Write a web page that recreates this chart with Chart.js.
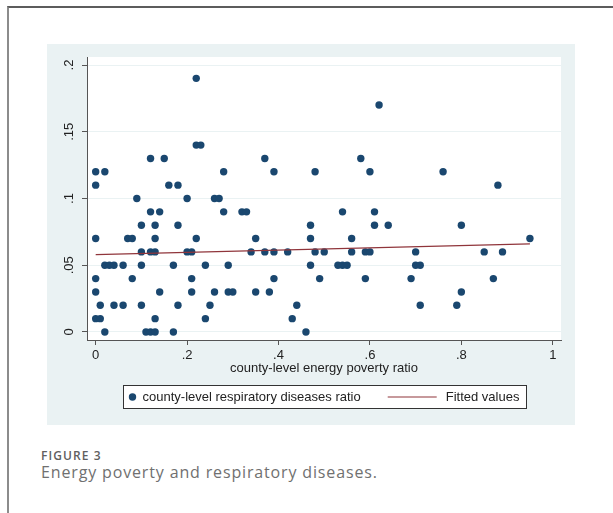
<!DOCTYPE html>
<html>
<head>
<meta charset="utf-8">
<script src="https://cdn.jsdelivr.net/npm/chart.js@4.4.0/dist/chart.umd.min.js"></script>
<style>
  html, body { margin: 0; padding: 0; background: #fff; width: 613px; height: 513px; overflow: hidden; }
  #card { position: absolute; left: 7px; top: 6px; width: 700px; height: 600px; border-left: 2px solid #8c8c8c; border-top: 2px solid #5c5c5c; }
  #wrap { position: absolute; left: 47px; top: 44px; width: 528px; height: 381px; }
  #figno { position: absolute; left: 41px; top: 450px; font: 600 12px/1 "Open Sans", sans-serif; letter-spacing: 1.1px; color: #606060; }
  #figcap { position: absolute; left: 41px; top: 463px; font: 400 16px/1.2 "Open Sans", sans-serif; letter-spacing: 0.85px; color: #707070; }
</style>
</head>
<body>
<div id="card"></div>
<div id="wrap"><canvas id="chartEnergyResp" width="528" height="381"></canvas></div>
<div id="figno">FIGURE 3</div>
<div id="figcap">Energy poverty and respiratory diseases.</div>
<script>
// county-level energy poverty ratio (x) and respiratory diseases ratio (y), one entry per county
var povertyRatio = [
    0, 0, 0, 0, 0, 0,
    0.01, 0.01,
    0.02, 0.02, 0.02, 0.03, 0.04, 0.04, 0.06, 0.06,
    0.07, 0.08, 0.08, 0.09,
    0.10, 0.10, 0.10, 0.10, 0.11,
    0.12, 0.12, 0.12, 0.12,
    0.13, 0.13, 0.13, 0.13, 0.13,
    0.14, 0.14, 0.15, 0.16, 0.17, 0.17,
    0.18, 0.18, 0.18, 0.20, 0.20,
    0.21, 0.21, 0.21, 0.22, 0.22, 0.22, 0.23,
    0.24, 0.24, 0.25, 0.26, 0.26, 0.27, 0.28, 0.28,
    0.29, 0.29, 0.30, 0.32, 0.33, 0.34, 0.35, 0.35,
    0.37, 0.37, 0.38, 0.39, 0.39, 0.39,
    0.42, 0.43, 0.44, 0.46, 0.47, 0.47, 0.47, 0.48, 0.48, 0.49, 0.50,
    0.53, 0.54, 0.54, 0.55, 0.56, 0.56, 0.58, 0.59, 0.59, 0.60, 0.60,
    0.61, 0.61, 0.62, 0.64, 0.69, 0.70, 0.70, 0.71, 0.71,
    0.76, 0.79, 0.80, 0.80, 0.85, 0.87, 0.88, 0.89, 0.95
];
var respRatio = [
    0.12, 0.11, 0.07, 0.04, 0.03, 0.01,
    0.02, 0.01,
    0.12, 0.05, 0, 0.05, 0.05, 0.02, 0.05, 0.02,
    0.07, 0.07, 0.04, 0.10,
    0.08, 0.06, 0.05, 0.02, 0,
    0.13, 0.09, 0.06, 0,
    0.08, 0.07, 0.06, 0.01, 0,
    0.09, 0.03, 0.13, 0.11, 0.05, 0,
    0.11, 0.08, 0.02, 0.10, 0.06,
    0.06, 0.04, 0.03, 0.19, 0.14, 0.07, 0.14,
    0.05, 0.01, 0.02, 0.10, 0.03, 0.10, 0.12, 0.09,
    0.05, 0.03, 0.03, 0.09, 0.09, 0.06, 0.07, 0.03,
    0.13, 0.06, 0.03, 0.12, 0.06, 0.04,
    0.06, 0.01, 0.02, 0, 0.08, 0.07, 0.05, 0.12, 0.06, 0.04, 0.06,
    0.05, 0.09, 0.05, 0.05, 0.07, 0.06, 0.13, 0.06, 0.04, 0.12, 0.06,
    0.09, 0.08, 0.17, 0.08, 0.04, 0.06, 0.05, 0.05, 0.02,
    0.12, 0.02, 0.08, 0.03, 0.06, 0.04, 0.11, 0.06, 0.07
];
// fitted values, read at both ends of the line
var fitX = [0, 0.95];
var fitY = [0.058, 0.066];

var xTicks = [0, 0.2, 0.4, 0.6, 0.8, 1];
var yTicks = [0, 0.05, 0.1, 0.15, 0.2];
var xTitle = 'county-level energy poverty ratio';
var legendLabels = ['county-level respiratory diseases ratio', 'Fitted values'];

var markerColor = 'rgb(26, 71, 111)';
var fitColor = 'rgb(144, 53, 59)';
var bgColor = 'rgb(234, 242, 243)';
var axisColor = '#555';
var textColor = '#222';
var chartFont = { family: '"Liberation Sans", Arial, sans-serif', size: 13 };

// stata style labels: .2 instead of 0.2
function stataLabel(v) {
    if (v === 0) return '0';
    return String(+v.toFixed(2)).replace(/^0\./, '.');
}

// gray graph region, white plot region and the boxed legend
var stataFrame = {
    id: 'stataFrame',
    beforeDraw: function(chart) {
        var ctx = chart.ctx, a = chart.chartArea;
        ctx.save();
        ctx.fillStyle = bgColor;
        ctx.fillRect(0, 0, chart.width, chart.height);
        ctx.fillStyle = '#fff';
        ctx.fillRect(a.left, a.top, a.right - a.left, a.bottom - a.top);
        ctx.restore();
    },
    afterDraw: function(chart) {
        var ctx = chart.ctx, a = chart.chartArea;
        ctx.save();
        ctx.font = chartFont.size + 'px ' + chartFont.family;
        var w1 = ctx.measureText(legendLabels[0]).width;
        var w2 = ctx.measureText(legendLabels[1]).width;
        var boxW = Math.round(19 + w1 + 27 + 49 + 9 + w2 + 7);
        var left = Math.round((a.left + a.right) / 2 - boxW / 2) + 0.5;
        var top = a.bottom + 45.5, h = 23, cy = top + h / 2;
        ctx.fillStyle = '#fff';
        ctx.fillRect(left, top, boxW, h);
        ctx.strokeStyle = '#333';
        ctx.lineWidth = 1;
        ctx.strokeRect(left, top, boxW, h);
        ctx.fillStyle = markerColor;
        ctx.beginPath();
        ctx.arc(left + 9, cy, 3.7, 0, Math.PI * 2);
        ctx.fill();
        ctx.fillStyle = textColor;
        ctx.textBaseline = 'middle';
        ctx.fillText(legendLabels[0], left + 19, cy + 0.5);
        var lx = left + 19 + w1 + 27;
        ctx.strokeStyle = fitColor;
        ctx.lineWidth = 1.2;
        ctx.beginPath();
        ctx.moveTo(lx, cy);
        ctx.lineTo(lx + 49, cy);
        ctx.stroke();
        ctx.fillText(legendLabels[1], lx + 58, cy + 0.5);
        ctx.restore();
    }
};

var scatterPoints = povertyRatio.map(function(x, i) { return { x: x, y: respRatio[i] }; });
var fitPoints = fitX.map(function(x, i) { return { x: x, y: fitY[i] }; });

var ctx = document.getElementById('chartEnergyResp');
var energyRespChart = new Chart(ctx, {
    type: 'scatter',
    data: {
        datasets: [{
            label: legendLabels[0],
            data: scatterPoints,
            backgroundColor: markerColor,
            borderWidth: 0,
            pointRadius: 3.7,
            order: 1
        }, {
            label: legendLabels[1],
            type: 'line',
            data: fitPoints,
            borderColor: fitColor,
            borderWidth: 1.2,
            pointRadius: 0,
            fill: false,
            order: 0
        }]
    },
    options: {
        responsive: false,
        animation: false,
        layout: { padding: { top: 13, right: 14, bottom: 49, left: 0 } },
        plugins: {
            legend: { display: false },
            tooltip: { enabled: false }
        },
        scales: {
            x: {
                type: 'linear',
                min: -0.019,
                max: 1.018,
                afterBuildTicks: function(s) { s.ticks = xTicks.map(function(v) { return { value: v }; }); },
                afterFit: function(s) { s.height = 36; },
                ticks: { callback: stataLabel, font: chartFont, color: textColor, padding: 3, maxRotation: 0, autoSkip: false },
                grid: { drawOnChartArea: false, tickLength: 5, tickColor: axisColor },
                border: { color: axisColor, width: 1 },
                title: { display: true, text: xTitle, font: chartFont, color: textColor, padding: { top: 0, bottom: 0 } }
            },
            y: {
                type: 'linear',
                min: -0.006,
                max: 0.206,
                afterBuildTicks: function(s) { s.ticks = yTicks.map(function(v) { return { value: v }; }); },
                afterFit: function(s) { s.width = 40; },
                ticks: { callback: stataLabel, font: chartFont, color: textColor, padding: 3.5, minRotation: 90, maxRotation: 90, crossAlign: 'center', autoSkip: false },
                grid: { color: bgColor, tickLength: 5, tickColor: axisColor, lineWidth: 1 },
                border: { color: axisColor, width: 1 }
            }
        }
    },
    plugins: [stataFrame]
});
</script>
</body>
</html>
